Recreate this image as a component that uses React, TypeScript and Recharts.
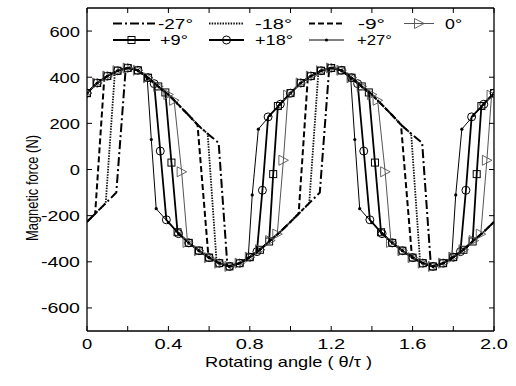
import React from 'react';
import { LineChart, Line, XAxis, YAxis, Legend } from 'recharts';

const FONT = '"Liberation Sans", Arial, Helvetica, sans-serif';

// ---------- tick values / labels ----------
const xTicks = [0, 0.2, 0.4, 0.6, 0.8, 1.0, 1.2, 1.4, 1.6, 1.8, 2.0];
const xLabelValues = [0, 0.4, 0.8, 1.2, 1.6, 2.0];
const xLabelTexts = ['0', '0.4', '0.8', '1.2', '1.6', '2.0'];
const yTicks = [-600, -400, -200, 0, 200, 400, 600];
const yLabelTexts = ['-600', '-400', '-200', '0', '200', '400', '600'];

// ---------- series data [rotating angle θ/τ, magnetic force N] ----------
const seriesM27: [number, number][] = [
  [0, -227], [0.05, -183], [0.1, -139], [0.144, -100], [0.19, 436], [0.2, 440], [0.25, 430], [0.3, 398],
  [0.35, 360], [0.4, 325], [0.45, 280], [0.5, 235], [0.55, 188], [0.6, 150], [0.647, 115], [0.69, -418],
  [0.7, -420], [0.75, -406], [0.8, -380], [0.85, -348], [0.9, -308], [0.95, -270], [1.0, -227],
  [1.05, -183], [1.1, -139], [1.144, -100], [1.19, 436], [1.2, 440], [1.25, 430], [1.3, 398],
  [1.35, 360], [1.4, 325], [1.45, 280], [1.5, 235], [1.55, 188], [1.6, 150], [1.647, 115], [1.69, -418],
  [1.7, -420], [1.75, -406], [1.8, -380], [1.85, -348], [1.9, -308], [1.95, -270], [2.0, -227],
];
const seriesM18: [number, number][] = [
  [0, -227], [0.05, -183], [0.092, -146], [0.137, 422], [0.15, 428], [0.2, 440], [0.25, 430], [0.3, 398],
  [0.35, 360], [0.4, 325], [0.45, 280], [0.5, 235], [0.55, 188], [0.593, 155], [0.637, -402],
  [0.65, -406], [0.7, -420], [0.75, -406], [0.8, -380], [0.85, -348], [0.9, -308], [0.95, -270], [1.0, -227],
  [1.05, -183], [1.092, -146], [1.137, 422], [1.15, 428], [1.2, 440], [1.25, 430], [1.3, 398],
  [1.35, 360], [1.4, 325], [1.45, 280], [1.5, 235], [1.55, 188], [1.593, 155], [1.637, -402],
  [1.65, -406], [1.7, -420], [1.75, -406], [1.8, -380], [1.85, -348], [1.9, -308], [1.95, -270], [2.0, -227],
];
const seriesM9: [number, number][] = [
  [0, -227], [0.04, -192], [0.085, 396], [0.1, 405], [0.15, 428], [0.2, 440], [0.25, 430], [0.3, 398],
  [0.35, 360], [0.4, 325], [0.45, 280], [0.5, 235], [0.543, 194], [0.597, -380], [0.65, -406],
  [0.7, -420], [0.75, -406], [0.8, -380], [0.85, -348], [0.9, -308], [0.95, -270], [1.0, -227],
  [1.04, -192], [1.085, 396], [1.1, 405], [1.15, 428], [1.2, 440], [1.25, 430], [1.3, 398],
  [1.35, 360], [1.4, 325], [1.45, 280], [1.5, 235], [1.543, 194], [1.597, -380], [1.65, -406],
  [1.7, -420], [1.75, -406], [1.8, -380], [1.85, -348], [1.9, -308], [1.95, -270], [2.0, -227],
];
const seriesZero: [number, number][] = [
  [0, 331], [0.05, 375], [0.1, 405], [0.15, 428], [0.2, 440], [0.25, 430], [0.3, 398], [0.35, 360],
  [0.4, 325], [0.428, 300], [0.465, -10], [0.494, -316], [0.55, -352], [0.6, -382], [0.65, -406],
  [0.7, -420], [0.75, -406], [0.8, -380], [0.85, -348], [0.9, -308], [0.935, -280], [0.965, 40], [0.988, 322],
  [1.05, 375], [1.1, 405], [1.15, 428], [1.2, 440], [1.25, 430], [1.3, 398], [1.35, 360],
  [1.4, 325], [1.428, 300], [1.465, -10], [1.494, -316], [1.55, -352], [1.6, -382], [1.65, -406],
  [1.7, -420], [1.75, -406], [1.8, -380], [1.85, -348], [1.9, -308], [1.935, -280], [1.965, 40], [1.988, 322],
];
const seriesP9: [number, number][] = [
  [0, 331], [0.05, 375], [0.1, 405], [0.15, 428], [0.2, 440], [0.25, 430], [0.3, 398], [0.35, 360],
  [0.385, 334], [0.415, 30], [0.445, -272], [0.5, -318], [0.55, -352], [0.6, -382], [0.65, -406],
  [0.7, -420], [0.75, -406], [0.8, -380], [0.85, -348], [0.895, -312], [0.915, -20], [0.938, 275], [1.0, 331],
  [1.05, 375], [1.1, 405], [1.15, 428], [1.2, 440], [1.25, 430], [1.3, 398], [1.35, 360],
  [1.385, 334], [1.415, 30], [1.445, -272], [1.5, -318], [1.55, -352], [1.6, -382], [1.65, -406],
  [1.7, -420], [1.75, -406], [1.8, -380], [1.85, -348], [1.895, -312], [1.915, -20], [1.938, 275], [2.0, 331],
];
const seriesP18: [number, number][] = [
  [0, 331], [0.05, 375], [0.1, 405], [0.15, 428], [0.2, 440], [0.25, 430], [0.3, 398], [0.33, 372],
  [0.36, 80], [0.39, -218], [0.45, -278], [0.5, -318], [0.55, -352], [0.6, -382], [0.65, -406],
  [0.7, -420], [0.75, -406], [0.8, -380], [0.835, -356], [0.862, -90], [0.89, 228], [0.95, 283], [1.0, 331],
  [1.05, 375], [1.1, 405], [1.15, 428], [1.2, 440], [1.25, 430], [1.3, 398], [1.33, 372],
  [1.36, 80], [1.39, -218], [1.45, -278], [1.5, -318], [1.55, -352], [1.6, -382], [1.65, -406],
  [1.7, -420], [1.75, -406], [1.8, -380], [1.835, -356], [1.862, -90], [1.89, 228], [1.95, 283], [2.0, 331],
];
const seriesP27: [number, number][] = [
  [0, 331], [0.05, 375], [0.1, 405], [0.15, 428], [0.2, 440], [0.25, 430], [0.296, 393], [0.316, 130],
  [0.34, -170], [0.4, -230], [0.45, -278], [0.5, -318], [0.55, -352], [0.6, -382], [0.65, -406],
  [0.7, -420], [0.75, -406], [0.792, -384], [0.812, -110], [0.842, 175], [0.9, 235], [0.95, 283], [1.0, 331],
  [1.05, 375], [1.1, 405], [1.15, 428], [1.2, 440], [1.25, 430], [1.296, 393], [1.316, 130],
  [1.34, -170], [1.4, -230], [1.45, -278], [1.5, -318], [1.55, -352], [1.6, -382], [1.65, -406],
  [1.7, -420], [1.75, -406], [1.792, -384], [1.812, -110], [1.842, 175], [1.9, 235], [1.95, 283], [2.0, 331],
];

const seriesNames = ['-27°', '-18°', '-9°', '0°', '+9°', '+18°', '+27°'];

const toPoints = (arr: [number, number][]) => arr.map(([x, y]) => ({ x, y }));

// ---------- markers ----------
type Kind = 'none' | 'square' | 'circle' | 'tri' | 'dot';

const drawMarker = (kind: Kind, cx: number, cy: number, key?: any) => {
  switch (kind) {
    case 'square':
      return <rect key={key} x={cx - 3.5} y={cy - 3.5} width={7} height={7} fill="none" stroke="#000" strokeWidth={1} />;
    case 'circle':
      return <circle key={key} cx={cx} cy={cy} r={4} fill="none" stroke="#000" strokeWidth={1} />;
    case 'tri':
      return (
        <path key={key} d={`M${cx - 4.5},${cy - 5} L${cx + 5},${cy} L${cx - 4.5},${cy + 5} Z`} fill="none" stroke="#555" strokeWidth={0.9} />
      );
    case 'dot':
      return <circle key={key} cx={cx} cy={cy} r={1.6} fill="#000" stroke="none" />;
    default:
      return <g key={key} />;
  }
};

const makeDot = (kind: Kind) => (p: any) => {
  const { cx, cy, index } = p;
  if (cx == null || cy == null) return <g key={`d-${index}`} />;
  return drawMarker(kind, cx, cy, `d-${index}`);
};

const SERIES = [
  { name: seriesNames[6], data: seriesP27, stroke: '#000', width: 1, dash: undefined, kind: 'dot' as Kind },
  { name: seriesNames[5], data: seriesP18, stroke: '#000', width: 1.8, dash: undefined, kind: 'circle' as Kind },
  { name: seriesNames[4], data: seriesP9, stroke: '#000', width: 1.8, dash: undefined, kind: 'square' as Kind },
  { name: seriesNames[3], data: seriesZero, stroke: '#555', width: 1, dash: undefined, kind: 'tri' as Kind },
  { name: seriesNames[2], data: seriesM9, stroke: '#000', width: 2, dash: '6 3', kind: 'none' as Kind },
  { name: seriesNames[1], data: seriesM18, stroke: '#111', width: 1.8, dash: '1.5 1.2', kind: 'none' as Kind },
  { name: seriesNames[0], data: seriesM27, stroke: '#000', width: 2, dash: '9 3 2 3', kind: 'none' as Kind },
];

// ---------- text helpers (reference text is horizontally stretched) ----------
const charWidth = (s: string) =>
  s.split('').reduce((a, c) => a + (c === '.' ? 7.5 : c === '-' ? 8.5 : 10.2), 0);

const XTick = (p: any) => {
  const { x, y, payload } = p;
  const i = xLabelValues.findIndex((v) => Math.abs(v - payload.value) < 1e-6);
  if (i < 0) return <g />;
  const t = xLabelTexts[i];
  return (
    <text x={x} y={y + 11} textAnchor="middle" fontFamily={FONT} fontSize={15} fill="#000"
      textLength={charWidth(t)} lengthAdjust="spacingAndGlyphs">{t}</text>
  );
};

const YTick = (p: any) => {
  const { x, y, payload } = p;
  const i = yTicks.findIndex((v) => Math.abs(v - payload.value) < 1e-6);
  if (i < 0) return <g />;
  const t = yLabelTexts[i];
  return (
    <text x={x} y={y + 5.5} textAnchor="end" fontFamily={FONT} fontSize={15} fill="#000"
      textLength={charWidth(t)} lengthAdjust="spacingAndGlyphs">{t}</text>
  );
};

const EmptyTick = () => <g />;

const XTitle = (p: any) => {
  const vb = p && p.viewBox ? p.viewBox : { x: 87, y: 331, width: 407, height: 55 };
  const cx = vb.x + vb.width / 2 - 2;
  const cy = vb.y + 36;
  return (
    <text x={cx} y={cy} textAnchor="middle" fontFamily={FONT} fontSize={15} fill="#000"
      textLength={167} lengthAdjust="spacingAndGlyphs">Rotating angle ( θ/τ )</text>
  );
};

const YTitle = (p: any) => {
  const vb = p && p.viewBox ? p.viewBox : { x: 0, y: 8, width: 87, height: 323 };
  const cx = vb.x + 38;
  const cy = vb.y + 180;
  return (
    <text x={cx} y={cy} transform={`rotate(-90 ${cx} ${cy})`} textAnchor="middle" fontFamily={FONT}
      fontSize={16} fill="#000" textLength={106} lengthAdjust="spacingAndGlyphs">Magnetic force (N)</text>
  );
};

// ---------- legend ----------
const legendRows = [
  [
    { idx: 0, x1: 113, x2: 155, tx: 158, tl: 35 },
    { idx: 1, x1: 209, x2: 244, tx: 255, tl: 37 },
    { idx: 2, x1: 309, x2: 345, tx: 358, tl: 27 },
    { idx: 3, x1: 404, x2: 434, tx: 445, tl: 17 },
  ],
  [
    { idx: 4, x1: 113, x2: 150, tx: 160, tl: 28 },
    { idx: 5, x1: 209, x2: 244, tx: 255, tl: 38 },
    { idx: 6, x1: 309, x2: 344, tx: 357, tl: 35 },
  ],
];
const legendRowY = [23.5, 40];

const LegendContent = () => {
  const styleOf = (idx: number) => SERIES.find((s) => s.name === seriesNames[idx])!;
  return (
    <svg width={516} height={52} style={{ display: 'block', overflow: 'visible' }}>
      {legendRows.map((row, r) =>
        row.map((it) => {
          const s = styleOf(it.idx);
          const y = legendRowY[r];
          const mx = (it.x1 + it.x2) / 2;
          return (
            <g key={`${r}-${it.idx}`}>
              <line x1={it.x1} x2={it.x2} y1={y} y2={y} stroke={s.stroke} strokeWidth={s.width}
                strokeDasharray={s.dash} />
              {s.kind !== 'none' && drawMarker(s.kind, mx, y)}
              <text x={it.tx} y={y + 5} fontFamily={FONT} fontSize={14} fill="#000"
                textLength={it.tl} lengthAdjust="spacingAndGlyphs">{seriesNames[it.idx]}</text>
            </g>
          );
        })
      )}
    </svg>
  );
};

export default function App() {
  return (
    <div style={{ position: 'absolute', left: 0, top: 0, width: 516, height: 386, background: '#fff' }}>
      <LineChart width={516} height={386} margin={{ top: 7, right: 21, bottom: 0, left: 0 }}>
        <XAxis xAxisId={0} type="number" dataKey="x" domain={[0, 2]} ticks={xTicks} interval={0}
          allowDataOverflow height={55} tickSize={-5} tickMargin={12} tick={<XTick />}
          axisLine={{ stroke: '#000', strokeWidth: 1.3 }} tickLine={{ stroke: '#000' }} label={XTitle} />
        <XAxis xAxisId="top" orientation="top" type="number" dataKey="x" domain={[0, 2]} ticks={xTicks}
          interval={0} allowDataOverflow height={1} tickSize={-5} tick={<EmptyTick />}
          axisLine={{ stroke: '#000', strokeWidth: 1.3 }} tickLine={{ stroke: '#000' }} />
        <YAxis yAxisId={0} type="number" domain={[-700, 700]} ticks={yTicks} interval={0} allowDataOverflow
          width={87} tickSize={-5} tickMargin={12} tick={<YTick />}
          axisLine={{ stroke: '#000', strokeWidth: 1.3 }} tickLine={{ stroke: '#000' }} label={YTitle} />
        <YAxis yAxisId="right" orientation="right" type="number" domain={[-700, 700]} ticks={yTicks}
          interval={0} allowDataOverflow width={1} tickSize={-5} tick={<EmptyTick />}
          axisLine={{ stroke: '#000', strokeWidth: 1.3 }} tickLine={{ stroke: '#000' }} />
        {SERIES.map((s) => (
          <Line key={s.name} name={s.name} data={toPoints(s.data)} dataKey="y" xAxisId={0} yAxisId={0}
            type="linear" stroke={s.stroke} strokeWidth={s.width} strokeDasharray={s.dash}
            dot={s.kind === 'none' ? false : makeDot(s.kind)} activeDot={false}
            isAnimationActive={false} />
        ))}
        <Legend layout="vertical" align="center" verticalAlign="middle" content={LegendContent}
          wrapperStyle={{ top: 0, left: 0, width: 516, height: 52, pointerEvents: 'none' }} />
      </LineChart>
    </div>
  );
}
